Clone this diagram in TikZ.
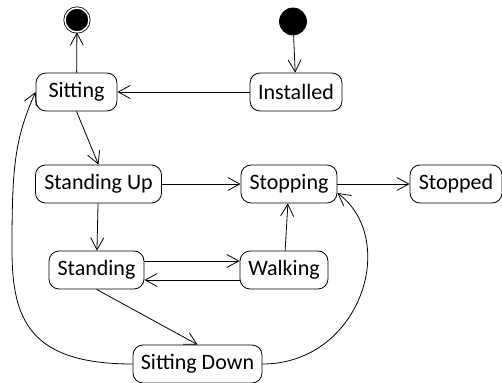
\documentclass[tikz,border=0pt]{standalone}
\usepackage{fontspec}
\setmainfont{Carlito}
\usepackage{tikz}
\usetikzlibrary{arrows.meta,positioning}
\tikzstyle{statebox}=[draw,rounded corners=10pt,minimum height=38pt,inner sep=0pt,font=\fontsize{22}{26}\selectfont]
\tikzstyle{startdot}=[circle,draw,fill=black,minimum size=27pt,inner sep=0pt]
\tikzstyle{enddot}=[circle,draw=black,fill=black,double=white,double distance=1.5pt,minimum size=24pt,inner sep=0pt]

\begin{document}
\begin{tikzpicture}[x=1pt,y=-1pt,line width=0.8pt,>={Straight Barb[length=12pt,width=13pt]}]
\useasboundingbox (0,0) rectangle (502,382);
\draw (293,21.5) node [startdot] (start) {};
\draw (77,20) node [enddot] (finish) {};
\draw (76.5,92) node [statebox,minimum width=81pt] (sitting) {Sitting};
\draw (296,92) node [statebox,minimum width=92pt] (installed) {Installed};
\draw (98.5,184) node [statebox,minimum width=126pt] (standingup) {Standing Up};
\draw (289,184) node [statebox,minimum width=96pt] (stopping) {Stopping};
\draw (456,184) node [statebox,minimum width=92pt] (stopped) {Stopped};
\draw (96.5,270) node [statebox,minimum width=95pt] (standing) {Standing};
\draw (284,270) node [statebox,minimum width=88pt] (walking) {Walking};
\draw (197.5,364) node [statebox,minimum width=129pt] (sittingdown) {Sitting Down};
% transitions
\draw[->] (start) -- (installed);
\draw[->] (sitting) -- (finish);
\draw[->] (installed) -- (sitting);
\draw[->] (sitting.south) -- (standingup.north);
\draw[->] (standingup) -- (stopping);
\draw[->] (stopping) -- (stopped);
\draw[->] (standingup) -- (standing);
\draw[->] ([yshift=9pt]standing.east) -- ([yshift=9pt]walking.west);
\draw[->] ([yshift=-10pt]walking.west) -- ([yshift=-10pt]standing.east);
\draw[->] (walking) -- (stopping);
\draw[->] (standing.south) -- (sittingdown.north);
\draw[->] (sittingdown.west) .. controls (30,364) and (12,320) .. (12,250)
  .. controls (12,170) and (14,140) .. (sitting.west);
\draw[->] (sittingdown.east) .. controls (360,364) and (400,240) .. ([yshift=-9pt]stopping.east);
\end{tikzpicture}
\end{document}
